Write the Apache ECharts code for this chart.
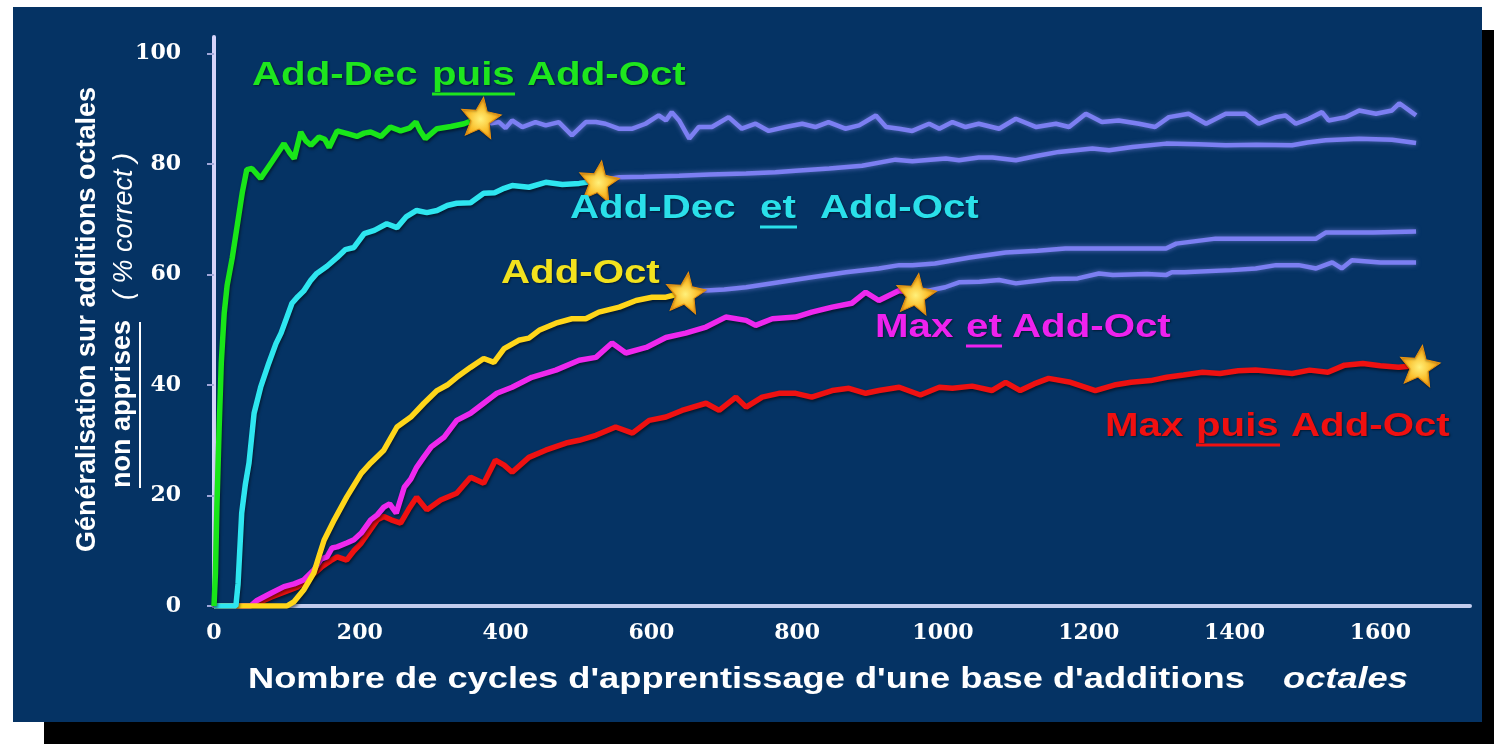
<!DOCTYPE html>
<html>
<head>
<meta charset="utf-8">
<title>Généralisation sur additions octales</title>
<script src="https://cdn.jsdelivr.net/npm/echarts@6/dist/echarts.min.js"></script>
<style>
    html, body { margin: 0; padding: 0; background: #fff; }
    #shadow { position: absolute; left: 44px; top: 30px; width: 1450px; height: 714px; background: #000; }
    #panel { position: absolute; left: 13px; top: 7px; width: 1469px; height: 715px; background: #053364; }
    #chart { position: absolute; left: 0; top: 0; width: 1494px; height: 744px; }
</style>
</head>
<body>
<div id="shadow"></div>
<div id="panel"></div>
<div id="chart"></div>
<script>
// tick labels
const xTicks = [0, 200, 400, 600, 800, 1000, 1200, 1400, 1600];
const yTicks = [0, 20, 40, 60, 80, 100];

// [cycles, % correct] -- colored part until the star, then the lavender follow-up
const addDecPuisOct = [[0,0],[2,6],[4,18],[7,32],[10,44],[14,53],[18,58],[25,63],[32,69],[39,75],[45,79],[52,79.2],[64,77.4],[80,80.5],[96,83.7],[104,82],[110,81],[119,85.8],[126,84.2],[133,83.4],[144,84.9],[152,84.5],[158,83],[169,86],[183,85.5],[196,85],[206,85.6],[215,85.8],[229,85],[242,86.7],[256,86],[268,86.5],[277,87.6],[283,86],[290,84.6],[306,86.4],[325,86.8],[343,87.3],[366,88.5]];
const addDecPuisOctSuite = [[366,88.5],[380,87.4],[391,87.6],[400,86.5],[409,87.9],[423,86.7],[441,87.6],[455,87],[473,87.6],[491,85.2],[510,87.6],[524,87.6],[537,87.3],[555,86.4],[574,86.4],[592,87.3],[610,88.8],[620,87.9],[628,89.4],[638,87.9],[652,84.6],[665,86.7],[683,86.7],[706,88.5],[724,86.4],[743,87.3],[761,86],[784,86.7],[807,87.3],[825,86.7],[843,87.6],[866,86.4],[885,87],[908,88.8],[922,86.7],[940,86.4],[958,86],[981,87.3],[995,86.4],[1013,87.6],[1031,86.7],[1049,87.3],[1077,86.4],[1100,88.2],[1128,86.7],[1155,87.3],[1173,86.7],[1196,89.1],[1218,87.6],[1241,87.9],[1269,87.3],[1291,86.7],[1310,88.5],[1337,89.1],[1361,87.3],[1388,89.1],[1415,89.1],[1433,87.3],[1457,88.5],[1470,88.8],[1484,87.3],[1502,88.2],[1520,89.4],[1529,87.9],[1553,88.5],[1571,89.7],[1594,89.1],[1616,89.7],[1626,91],[1649,88.8]];

const addDecEtOct = [[0,0],[30,0],[33,4],[38,16.8],[43,22],[48,25.9],[55,34.9],[64,39.6],[75,43.9],[85,47.5],[92,49.4],[107,54.8],[115,56],[123,57],[133,59],[141,60.2],[155,61.5],[169,63.1],[180,64.5],[192,64.9],[206,67.4],[220,68],[237,69.2],[251,68.5],[264,70.5],[278,71.6],[292,71.2],[306,71.6],[320,72.5],[333,72.9],[352,73],[370,74.7],[385,74.8],[398,75.6],[409,76.1],[432,75.8],[455,76.7],[478,76.3],[501,76.5],[528,77]];
const addDecEtOctSuite = [[528,77],[556,77.6],[590,77.7],[638,77.9],[680,78.1],[730,78.3],[770,78.5],[798,78.8],[844,79.2],[889,79.7],[935,80.8],[958,80.5],[1004,81],[1022,80.7],[1049,81.2],[1068,81.2],[1100,80.7],[1130,81.5],[1159,82.2],[1205,82.8],[1228,82.5],[1260,83.1],[1306,83.7],[1350,83.6],[1388,83.4],[1430,83.5],[1479,83.4],[1500,83.9],[1525,84.3],[1571,84.6],[1616,84.4],[1649,83.8]];

const addOct = [[0,0],[100,0],[110,0.8],[123,2.9],[137,6],[144,9],[151,11.9],[165,15.6],[182,19.7],[202,24],[215,25.9],[233,28.2],[251,32.4],[270,34.2],[288,36.7],[306,39],[320,40],[333,41.4],[352,43.2],[370,44.8],[384,44.1],[398,46.6],[418,48.1],[432,48.5],[446,49.9],[469,51.2],[491,52],[510,52],[528,53.2],[556,54.1],[579,55.3],[601,55.9],[620,55.9],[647,56.8]];
const addOctSuite = [[647,56.8],[675,57.1],[700,57.3],[730,57.7],[775,58.6],[820,59.5],[867,60.4],[912,61.1],[940,61.7],[958,61.7],[989,62],[1037,63.1],[1086,64],[1130,64.3],[1168,64.7],[1240,64.7],[1306,64.7],[1320,65.6],[1374,66.5],[1440,66.5],[1512,66.5],[1525,67.6],[1590,67.6],[1649,67.8]];

const maxEtOct = [[0,0],[50,0],[59,1],[78,2.3],[96,3.5],[110,4],[123,4.7],[137,6.5],[147,8.5],[155,8.9],[162,10.5],[169,10.7],[182,11.4],[192,12],[202,13.2],[215,15.6],[224,16.5],[233,17.9],[241,18.5],[250,16.8],[261,21.5],[270,23],[278,25.1],[288,27],[298,28.8],[316,30.6],[333,33.6],[352,34.9],[370,36.7],[381,37.8],[388,38.5],[409,39.6],[436,41.4],[469,42.7],[501,44.5],[524,45],[546,47.6],[565,45.8],[593,46.8],[620,48.6],[647,49.4],[675,50.5],[702,52.3],[730,51.7],[743,50.8],[766,52],[798,52.3],[820,53.2],[848,54.1],[875,54.8],[894,56.8],[912,55.3],[940,57.1],[963,56.6]];
const maxEtOctSuite = [[963,56.6],[1003,57.7],[1022,58.6],[1050,58.7],[1077,59],[1100,58.4],[1150,59.2],[1185,59.3],[1214,60.2],[1233,59.9],[1280,60.1],[1306,59.9],[1314,60.4],[1331,60.4],[1396,60.8],[1429,61.1],[1457,61.7],[1488,61.7],[1512,61.1],[1534,62.2],[1547,61.1],[1561,62.6],[1600,62.2],[1649,62.2]];

const maxPuisOct = [[0,0],[50,0],[65,0.8],[78,1.6],[96,2.5],[114,3.4],[130,5],[147,7],[160,8.2],[169,8.9],[182,8.3],[192,10],[202,11.4],[213,13.5],[224,15.6],[233,16.2],[243,15.6],[256,15],[267,17.5],[278,19.7],[292,17.4],[311,19.2],[333,20.4],[352,23.3],[370,22.2],[386,26.4],[398,25.5],[409,24.2],[432,26.9],[455,28.2],[483,29.5],[501,30],[524,30.9],[551,32.4],[574,31.3],[597,33.6],[620,34.2],[642,35.4],[675,36.7],[693,35.4],[716,37.8],[730,36],[752,37.8],[775,38.5],[798,38.5],[820,37.8],[848,39],[871,39.4],[894,38.5],[912,39],[940,39.6],[969,38.2],[995,39.6],[1013,39.4],[1040,39.8],[1067,39],[1086,40.5],[1106,39],[1125,40.2],[1145,41.2],[1175,40.5],[1209,39],[1235,40],[1258,40.5],[1285,40.8],[1307,41.4],[1330,41.8],[1356,42.3],[1380,42.1],[1405,42.6],[1429,42.7],[1455,42.4],[1479,42.1],[1503,42.7],[1528,42.3],[1551,43.6],[1576,43.9],[1600,43.5],[1625,43.2],[1654,43.6]];

// star at the end of each colored part
const stars = [addDecPuisOct, addDecEtOct, addOct, maxEtOct, maxPuisOct].map(s => s[s.length - 1]);

const LAVANDE = '#7c7ff2';
const SANS = '"Liberation Sans", Arial, sans-serif';
const STAR = 'path://M50,0 L64,33 L100,36 L73,60 L82,96 L50,77 L18,96 L27,60 L0,36 L36,33 Z';

function suite(data) {
    return {
        type: 'line', data: data, showSymbol: false, silent: true, z: 2,
        lineStyle: { color: LAVANDE, width: 4.5, shadowColor: 'rgba(150,150,255,0.6)', shadowBlur: 5 }
    };
}
function courbe(data, color) {
    return {
        type: 'line', data: data, showSymbol: false, silent: true, z: 3,
        lineStyle: { color: color, width: 5.5, shadowColor: 'rgba(0,0,0,0.5)', shadowBlur: 3, shadowOffsetX: 1, shadowOffsetY: 2 }
    };
}

// one piece of a curve caption (baseline y), horizontally stretched like the slide
function mot(text, x, base, color, souligne, largeur) {
    const els = [{
        type: 'text', x: x, y: base - 12, scaleX: 1.22, z: 10,
        style: { text: text, fill: color, font: 'bold 33px ' + SANS, textAlign: 'left', verticalAlign: 'middle',
                 textShadowColor: 'rgba(0,0,0,0.5)', textShadowBlur: 2, textShadowOffsetX: 1, textShadowOffsetY: 1 }
    }];
    if (souligne) {
        els.push({ type: 'line', z: 10, shape: { x1: x, y1: base + 6, x2: x + largeur, y2: base + 6 },
                   style: { stroke: color, lineWidth: 3 } });
    }
    return els;
}

const legendes = [].concat(
    mot('Add-Dec', 252, 88, '#1ee61e'), mot('puis', 432, 88, '#1ee61e', true, 83), mot('Add-Oct', 527, 88, '#1ee61e'),
    mot('Add-Dec', 570, 221, '#2ae0ea'), mot('et', 760, 221, '#2ae0ea', true, 37), mot('Add-Oct', 820, 221, '#2ae0ea'),
    mot('Add-Oct', 501, 286, '#f2e21e'),
    mot('Max', 875, 340, '#ee22ee'), mot('et', 966, 340, '#ee22ee', true, 36), mot('Add-Oct', 1012, 340, '#ee22ee'),
    mot('Max', 1105, 439, '#f01010'), mot('puis', 1196, 439, '#f01010', true, 84), mot('Add-Oct', 1291, 439, '#f01010')
);

const titres = [
    { type: 'text', x: 248, y: 680, scaleX: 1.25,
      style: { text: "Nombre de cycles d'apprentissage d'une base d'additions", fill: '#fff', font: 'bold 29px ' + SANS, verticalAlign: 'middle' } },
    { type: 'text', x: 1283, y: 680, scaleX: 1.25,
      style: { text: 'octales', fill: '#fff', font: 'italic bold 29px ' + SANS, verticalAlign: 'middle' } },
    { type: 'text', x: 88, y: 552, rotation: Math.PI / 2,
      style: { text: 'Généralisation sur additions octales', fill: '#fff', font: 'bold 27px ' + SANS, verticalAlign: 'middle' } },
    { type: 'text', x: 123, y: 488, rotation: Math.PI / 2,
      style: { text: 'non apprises', fill: '#fff', font: 'bold 27px ' + SANS, verticalAlign: 'middle' } },
    { type: 'line', shape: { x1: 140, y1: 488, x2: 140, y2: 322 }, style: { stroke: '#fff', lineWidth: 2 } },
    { type: 'text', x: 124, y: 300, rotation: Math.PI / 2,
      style: { text: '( % correct )', fill: '#fff', font: 'italic 27px ' + SANS, verticalAlign: 'middle' } }
];

const myChart = echarts.init(document.getElementById('chart'));
const option = {
    animation: false,
    grid: { left: 214, top: 37, width: 1256, height: 569, containLabel: false, outerBoundsMode: 'none' },
    xAxis: {
        type: 'value', min: 0, max: 1723, interval: 200,
        axisLine: { lineStyle: { color: '#c2cdee', width: 4 } },
        axisTick: { show: false },
        splitLine: { show: false },
        axisLabel: { customValues: xTicks, formatter: v => String(v), color: '#fff', fontFamily: '"DejaVu Serif", serif', fontWeight: 'bold', fontSize: 22, margin: 16 }
    },
    yAxis: {
        type: 'value', min: 0, max: 103, interval: 20,
        axisLine: { show: true, lineStyle: { color: '#d6d4fa', width: 4 } },
        axisTick: { show: true, customValues: yTicks, length: 7, lineStyle: { color: '#9fa6d8', width: 2 } },
        splitLine: { show: false },
        axisLabel: { customValues: yTicks, formatter: v => String(v), color: '#fff', fontFamily: '"DejaVu Serif", serif', fontWeight: 'bold', fontSize: 22, margin: 33 }
    },
    series: [
        suite(addDecPuisOctSuite),
        suite(addDecEtOctSuite),
        suite(addOctSuite),
        suite(maxEtOctSuite),
        courbe(maxPuisOct, '#ee1111'),
        courbe(maxEtOct, '#ee28ee'),
        courbe(addOct, '#ffd61a'),
        courbe(addDecEtOct, '#2ee6f0'),
        courbe(addDecPuisOct, '#19e619'),
        {
            type: 'scatter', data: stars, symbol: STAR, symbolSize: 40, symbolRotate: -8, z: 5, silent: true,
            itemStyle: {
                opacity: 1,
                color: { type: 'radial', x: 0.5, y: 0.55, r: 0.6,
                         colorStops: [{ offset: 0, color: '#fff07a' }, { offset: 0.5, color: '#fbbf2c' }, { offset: 1, color: '#f08c0c' }] },
                borderColor: '#e8900e', borderWidth: 1,
                shadowColor: 'rgba(0,0,0,0.35)', shadowBlur: 2, shadowOffsetY: 1
            }
        }
    ],
    graphic: legendes.concat(titres)
};
myChart.setOption(option);
window.addEventListener('resize', () => {
    myChart.resize();
});
</script>
</body>
</html>
